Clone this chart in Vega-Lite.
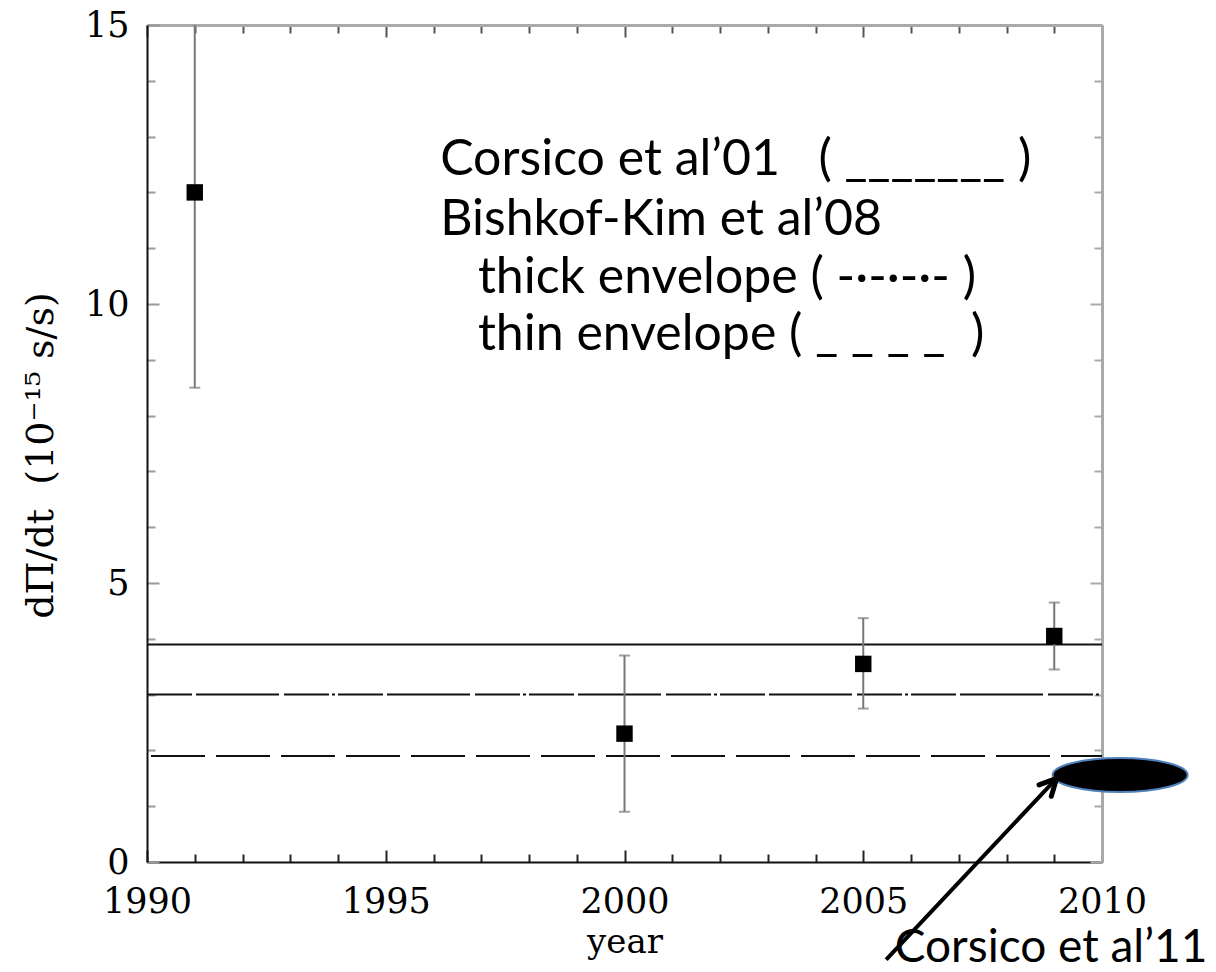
{
  "$schema": "https://vega.github.io/schema/vega-lite/v6.json",
  "width": 955,
  "height": 837,
  "autosize": {"type": "none"},
  "padding": {"left": 147, "top": 25, "right": 114, "bottom": 110},
  "background": "white",
  "config": {"view": {"stroke": null}},
  "datasets": {
    "rates": [
      {"year": 1991, "rate": 12.0, "lo": 8.5, "hi": 15.5},
      {"year": 2000, "rate": 2.3, "lo": 0.9, "hi": 3.7},
      {"year": 2005, "rate": 3.55, "lo": 2.75, "hi": 4.37},
      {"year": 2009, "rate": 4.05, "lo": 3.45, "hi": 4.65}
    ],
    "notes": [
      {"text": "Corsico et al’01\u00a0\u00a0\u00a0(\u00a0_______\u00a0)", "year": 1996.14, "rate": 12.58},
      {"text": "Bishkof-Kim et al’08", "year": 1996.14, "rate": 11.5},
      {"text": "thick envelope ( -·-·-·- )", "year": 1996.93, "rate": 10.47},
      {"text": "thin envelope (\u00a0_ _ _ _\u00a0\u00a0)", "year": 1996.93, "rate": 9.44}
    ],
    "callout": [
      {"text": "Corsico et al’11", "year": 2005.66, "rate": -1.55}
    ],
    "arrow": [{"x0": 2005.48, "y0": -1.75, "x1": 2009.05, "y1": 1.5}],
    "prediction": [{"year": 2010.38, "rate": 1.56}]
  },
  "layer": [
    {
      "data": {"values": [{}]},
      "mark": {"type": "point", "opacity": 0},
      "encoding": {
        "x": {"datum": 1990, "type": "quantitative",
          "scale": {"domain": [1990, 2010], "nice": false, "zero": false},
          "axis": {
            "orient": "bottom",
            "values": [1990,1991,1992,1993,1994,1995,1996,1997,1998,1999,2000,2001,2002,2003,2004,2005,2006,2007,2008,2009,2010],
            "labelExpr": "datum.value % 5 === 0 ? datum.value : ''",
            "format": "d",
            "title": "year",
            "titleFont": "DejaVu Serif", "titleFontSize": 34, "titleFontWeight": "normal", "titleColor": "#000",
            "titlePadding": 2,
            "labelFont": "DejaVu Serif", "labelFontSize": 35, "labelColor": "#000",
            "labelPadding": 34, "labelFlush": false, "labelOverlap": false,
            "domainColor": "#111", "domainWidth": 2,
            "tickColor": "#222", "tickWidth": 2,
            "tickSize": {"condition": {"test": "datum.value % 5 === 0", "value": -12}, "value": -8},
            "grid": false
          }},
        "y": {"datum": 0, "type": "quantitative",
          "scale": {"domain": [0, 15], "nice": false, "zero": false},
          "axis": {
            "orient": "left",
            "values": [0,1,2,3,4,5,6,7,8,9,10,11,12,13,14,15],
            "labelExpr": "datum.value % 5 === 0 ? datum.value : ''",
            "title": "dΠ/dt\u00a0\u00a0(10⁻¹⁵\u00a0s/s)",
            "titleFont": "DejaVu Serif", "titleFontSize": 38, "titleFontWeight": "normal", "titleColor": "#000",
            "titlePadding": 24, "titleAnchor": "middle", "titleAlign": "center", "titleY": 430,
            "labelFont": "DejaVu Serif", "labelFontSize": 35, "labelColor": "#000",
            "labelPadding": 30, "labelFlush": false, "labelOverlap": false,
            "domainColor": "#111", "domainWidth": 2,
            "tickColor": "#999", "tickWidth": 2,
            "tickSize": {"condition": {"test": "datum.value % 5 === 0", "value": -12}, "value": -8},
            "grid": false
          }}
      }
    },
    {
      "data": {"values": [{}]},
      "mark": {"type": "point", "opacity": 0},
      "encoding": {
        "x": {"datum": 1990, "type": "quantitative",
          "axis": {
            "orient": "top",
            "values": [1990,1991,1992,1993,1994,1995,1996,1997,1998,1999,2000,2001,2002,2003,2004,2005,2006,2007,2008,2009,2010],
            "labels": false, "title": null,
            "domainColor": "#aaa", "domainWidth": 3,
            "tickColor": "#555", "tickWidth": 2,
            "tickSize": {"condition": {"test": "datum.value % 5 === 0", "value": -12}, "value": -8},
            "grid": false
          }},
        "y": {"datum": 0, "type": "quantitative",
          "axis": {
            "orient": "right",
            "values": [0,1,2,3,4,5,6,7,8,9,10,11,12,13,14,15],
            "labels": false, "title": null,
            "domainColor": "#aaa", "domainWidth": 3,
            "tickColor": "#aaa", "tickWidth": 2,
            "tickSize": {"condition": {"test": "datum.value % 5 === 0", "value": -12}, "value": -8},
            "grid": false
          }}
      }
    },
    {
      "data": {"values": [{}]},
      "mark": {"type": "rule", "color": "#111", "strokeWidth": 2},
      "encoding": {
        "x": {"datum": 1990, "type": "quantitative", "axis": null},
        "x2": {"datum": 2010},
        "y": {"datum": 3.9, "type": "quantitative", "axis": null}
      }
    },
    {
      "data": {"values": [{}]},
      "mark": {"type": "rule", "color": "#111", "strokeWidth": 2, "strokeDash": [45, 4, 83, 5, 45, 3, 3, 3]},
      "encoding": {
        "x": {"datum": 1990, "type": "quantitative", "axis": null},
        "x2": {"datum": 2010},
        "y": {"datum": 3.0, "type": "quantitative", "axis": null}
      }
    },
    {
      "data": {"values": [{}]},
      "mark": {"type": "rule", "color": "#111", "strokeWidth": 2, "strokeDash": [54, 11], "strokeDashOffset": -4},
      "encoding": {
        "x": {"datum": 1990, "type": "quantitative", "axis": null},
        "x2": {"datum": 2010},
        "y": {"datum": 1.9, "type": "quantitative", "axis": null}
      }
    },
    {
      "data": {"name": "rates"},
      "mark": {"type": "rule", "color": "#777", "strokeWidth": 2, "clip": true},
      "encoding": {
        "x": {"field": "year", "type": "quantitative", "axis": null},
        "y": {"field": "lo", "type": "quantitative", "axis": null},
        "y2": {"field": "hi"}
      }
    },
    {
      "data": {"name": "rates"},
      "mark": {"type": "tick", "orient": "horizontal", "color": "#777", "size": 11, "thickness": 2, "clip": true},
      "encoding": {
        "x": {"field": "year", "type": "quantitative", "axis": null},
        "y": {"field": "lo", "type": "quantitative", "axis": null}
      }
    },
    {
      "data": {"name": "rates"},
      "mark": {"type": "tick", "orient": "horizontal", "color": "#777", "size": 11, "thickness": 2, "clip": true},
      "encoding": {
        "x": {"field": "year", "type": "quantitative", "axis": null},
        "y": {"field": "hi", "type": "quantitative", "axis": null}
      }
    },
    {
      "data": {"name": "rates"},
      "mark": {"type": "point", "shape": "square", "filled": true, "color": "#000", "size": 270, "opacity": 1},
      "encoding": {
        "x": {"field": "year", "type": "quantitative", "axis": null},
        "y": {"field": "rate", "type": "quantitative", "axis": null}
      }
    },
    {
      "data": {"name": "prediction"},
      "mark": {
        "type": "point",
        "shape": "M-1,0 A1,0.252 0 1,1 1,0 A1,0.252 0 1,1 -1,0 Z",
        "filled": true, "fill": "#000", "stroke": "#4f81bd", "strokeWidth": 2,
        "size": 18225, "opacity": 1
      },
      "encoding": {
        "x": {"field": "year", "type": "quantitative", "axis": null},
        "y": {"field": "rate", "type": "quantitative", "axis": null}
      }
    },
    {
      "data": {"name": "arrow"},
      "mark": {"type": "rule", "color": "#000", "strokeWidth": 4},
      "encoding": {
        "x": {"field": "x0", "type": "quantitative", "axis": null},
        "y": {"field": "y0", "type": "quantitative", "axis": null},
        "x2": {"field": "x1"},
        "y2": {"field": "y1"}
      }
    },
    {
      "data": {"name": "arrow"},
      "mark": {
        "type": "point",
        "shape": "M-0.75,1.5 L0,0 L0.75,1.5",
        "filled": false, "stroke": "#000", "strokeWidth": 5, "strokeCap": "round", "strokeJoin": "miter",
        "size": 500, "angle": 43, "opacity": 1
      },
      "encoding": {
        "x": {"field": "x1", "type": "quantitative", "axis": null},
        "y": {"field": "y1", "type": "quantitative", "axis": null}
      }
    },
    {
      "data": {"name": "notes"},
      "mark": {"type": "text", "align": "left", "baseline": "middle", "font": "Lato", "fontSize": 50, "color": "#000"},
      "encoding": {
        "x": {"field": "year", "type": "quantitative", "axis": null},
        "y": {"field": "rate", "type": "quantitative", "axis": null},
        "text": {"field": "text"}
      }
    },
    {
      "data": {"name": "callout"},
      "mark": {"type": "text", "align": "left", "baseline": "middle", "font": "Lato", "fontSize": 46, "color": "#000"},
      "encoding": {
        "x": {"field": "year", "type": "quantitative", "axis": null},
        "y": {"field": "rate", "type": "quantitative", "axis": null},
        "text": {"field": "text"}
      }
    }
  ],
  "resolve": {"axis": {"x": "independent", "y": "independent"}}
}
